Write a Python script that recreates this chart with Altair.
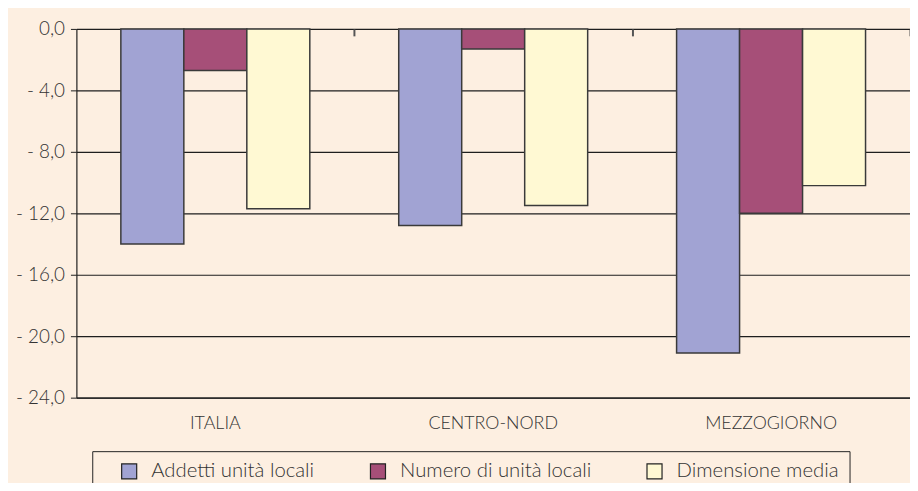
import altair as alt
import pandas as pd

categories = ["ITALIA", "CENTRO-NORD", "MEZZOGIORNO"]
series = ["Addetti unità locali", "Numero di unità locali", "Dimensione media"]
addetti = [-14.0, -12.8, -21.1]
numero = [-2.7, -1.3, -12.0]
dimensione = [-11.7, -11.5, -10.2]
y_ticks = [0, -4, -8, -12, -16, -20, -24]
colors = ["#A1A3D3", "#A64F78", "#FFF9D3"]

rows = []
for i, c in enumerate(categories):
    for s, vals in zip(series, [addetti, numero, dimensione]):
        rows.append({"area": c, "serie": s, "valore": vals[i]})
df = pd.DataFrame(rows)

FONT = "Lato"
PLOT_W = 841
xscale = alt.Scale(paddingInner=0.32, paddingOuter=0.16)

bottom_axis = alt.Axis(title=None, ticks=False, domain=True, domainColor="#222222",
                       domainWidth=1.2, labelFont=FONT, labelFontSize=18,
                       labelFontWeight=300, labelColor="#333333", labelPadding=17,
                       labelAngle=0, grid=False)
top_axis = alt.Axis(title=None, orient="top", labels=False, domain=False, ticks=True,
                    tickBand="center", tickOffset=PLOT_W / 6, tickSize=7, offset=-7,
                    tickColor="#555555", tickWidth=2, grid=False)

y_axis = alt.Axis(title=None, values=y_ticks, grid=True, gridColor="#1e1e1e",
                  gridWidth=1.2, domain=True, domainColor="#1e1e1e", domainWidth=1.2,
                  ticks=True, tickSize=6, tickColor="#1e1e1e", labelPadding=6,
                  labelFont=FONT, labelFontSize=19, labelFontWeight=300,
                  labelColor="#333333",
                  labelExpr="datum.value == 0 ? '0,0' : '- ' + replace(format(-datum.value, '.1f'), '.', ',')")

legend = alt.Legend(title=" ", titleOrient="left", titlePadding=17, titleFontSize=8,
                    orient="none", legendX=16, legendY=426, direction="horizontal",
                    symbolType="square", symbolSize=230, symbolStrokeColor="#222222",
                    symbolStrokeWidth=1.2, labelFont=FONT, labelFontSize=20.5,
                    labelFontWeight=300, labelColor="#333333", labelOffset=12,
                    labelLimit=400, columnPadding=53, padding=10,
                    strokeColor="#222222", fillColor="#FDEFE1",
                    labelExpr="datum.label == 'Dimensione media' ? datum.label + '\u00a0\u00a0\u00a0\u00a0\u00a0\u00a0\u00a0\u00a0\u00a0\u00a0' : datum.label")

base = alt.Chart(df)

bars = base.mark_bar(stroke="#3a3a3a", strokeWidth=1.5).encode(
    x=alt.X("area:N", sort=categories, scale=xscale, axis=bottom_axis),
    xOffset=alt.XOffset("serie:N", sort=series, scale=alt.Scale(paddingInner=0, paddingOuter=0)),
    y=alt.Y("valore:Q", scale=alt.Scale(domain=[-24, 0], nice=False), axis=y_axis),
    color=alt.Color("serie:N", sort=series,
                    scale=alt.Scale(domain=series, range=colors), legend=legend),
)

ticks_layer = base.mark_bar(opacity=0).encode(
    x=alt.X("area:N", sort=categories, scale=xscale, axis=top_axis),
    xOffset=alt.XOffset("serie:N", sort=series),
    y=alt.Y("valore:Q"),
)

chart = alt.layer(bars, ticks_layer).resolve_axis(x="independent").properties(
    width=PLOT_W, height=372,
    background="#FDEFE1",
    padding={"left": 69, "top": 19, "right": 0, "bottom": 84},
    autosize=alt.AutoSizeParams(type="none"),
).configure_view(stroke=None)

chart.save("out.html", embed_options={"renderer": "svg", "actions": False})
